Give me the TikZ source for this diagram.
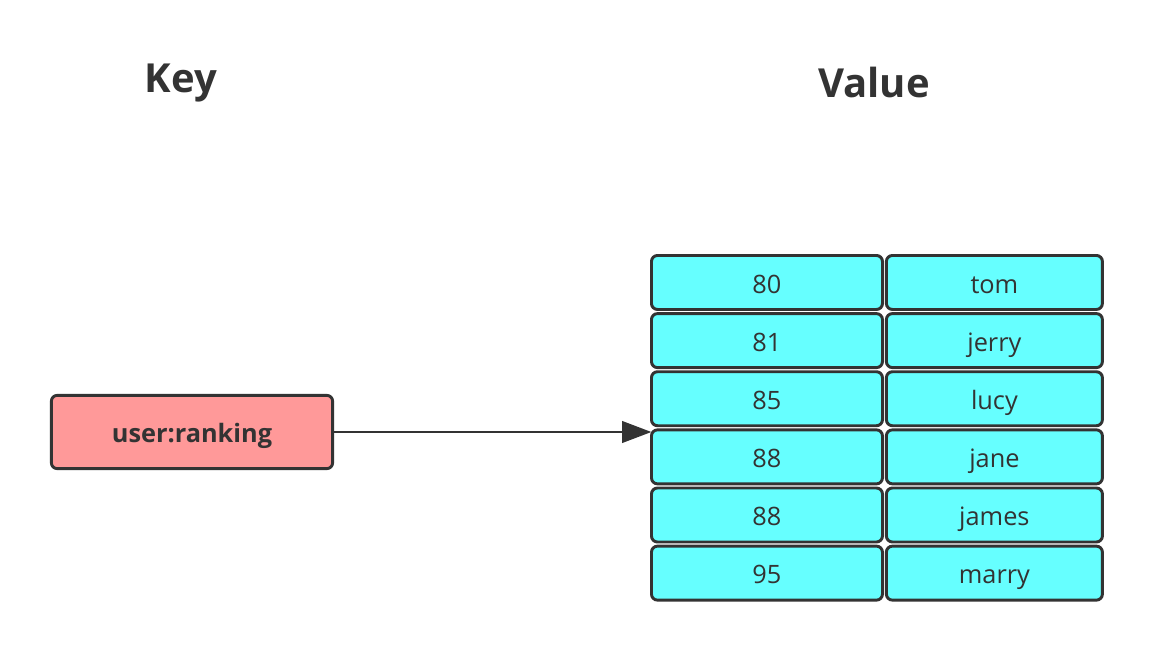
\documentclass[tikz,border=0pt]{standalone}
\usepackage{fontspec}
\setmainfont{Open Sans}
\usetikzlibrary{matrix,positioning,arrows.meta}

\definecolor{keyred}{HTML}{FF9999}
\definecolor{valcyan}{HTML}{66FFFF}
\definecolor{ink}{HTML}{333333}

\begin{document}
\begin{tikzpicture}[x=0.75pt,y=-0.75pt,ampersand replacement=\&,
  box/.style={draw=ink, line width=2.2pt, rounded corners=4.5pt, outer sep=0pt, text=ink,
    text height=16pt, text depth=0pt, font=\fontsize{19}{22}\selectfont},
  title/.style={text=ink, font=\fontsize{30}{34}\selectfont\bfseries}]
\useasboundingbox (0,0) rectangle (1154,652);

\node[title] (k) at (181,83) {Key};
\node[title] (v) at (874,83) {Value};

\node[box, fill=keyred, minimum width=211pt, minimum height=55pt, font=\fontsize{19}{22}\selectfont\bfseries] (key) at (192,432) {user:ranking};

\matrix[anchor=north west, inner sep=0pt, outer sep=0pt, column sep=0.75pt, row sep=0.9pt,
  entry/.style={box, fill=valcyan, minimum height=40.5pt},
  sc/.style={entry, minimum width=173.25pt},
  nm/.style={entry, minimum width=162pt}] (t) at (650,254)
  {
    \node[sc] (s1) {80}; \& \node[nm] (n1) {tom}; \\
    \node[sc] (s2) {81}; \& \node[nm] (n2) {jerry}; \\
    \node[sc] (s3) {85}; \& \node[nm] (n3) {lucy}; \\
    \node[sc] (s4) {88}; \& \node[nm] (n4) {jane}; \\
    \node[sc] (s5) {88}; \& \node[nm] (n5) {james}; \\
    \node[sc] (s6) {95}; \& \node[nm] (n6) {marry}; \\
  };

\draw[ink, line width=2.2pt, -{Triangle[length=22pt,width=16pt]}] (key.east) -- (key.east -| s4.west);
\end{tikzpicture}
\end{document}
